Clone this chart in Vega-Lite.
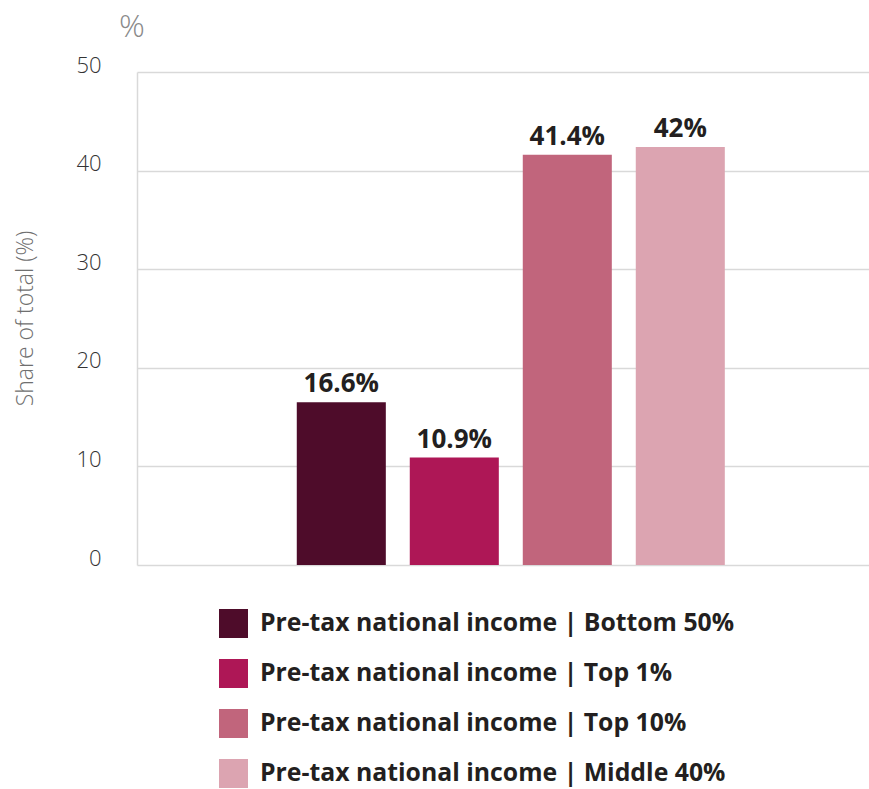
{
  "$schema": "https://vega.github.io/schema/vega-lite/v6.json",
  "width": 732,
  "height": 493,
  "autosize": {"type": "none"},
  "padding": {"left": 137, "top": 72, "right": 0, "bottom": 224},
  "background": "white",
  "config": {"font": "Open Sans", "view": {"stroke": null}},
  "title": {"text": "%", "anchor": "start", "frame": "group", "dx": -18, "offset": -22, "fontSize": 32, "fontWeight": 300, "color": "#8a8a8a", "baseline": "bottom"},
  "data": {"values": [
    {"series": "Pre-tax national income | Bottom 50%", "value": 16.5, "label": "16.6%"},
    {"series": "Pre-tax national income | Top 1%", "value": 10.9, "label": "10.9%"},
    {"series": "Pre-tax national income | Top 10%", "value": 41.6, "label": "41.4%"},
    {"series": "Pre-tax national income | Middle 40%", "value": 42.4, "label": "42%"}
  ]},
  "encoding": {
    "x": {"field": "series", "type": "nominal", "sort": null,
      "scale": {"domain": ["_left", "Pre-tax national income | Bottom 50%", "Pre-tax national income | Top 1%", "Pre-tax national income | Top 10%", "Pre-tax national income | Middle 40%", "_right"],
        "paddingInner": 0.212, "paddingOuter": 0.345, "align": 0.6},
      "axis": null},
    "y": {"field": "value", "type": "quantitative",
      "scale": {"domain": [0, 50], "nice": false},
      "axis": {"values": [0, 10, 20, 30, 40, 50], "title": "Share of total (%)", "titleFontSize": 23, "titleFontWeight": 300, "titleColor": "#6f6f6f",
        "titleX": -112, "titleY": 246, "titleAngle": -90, "titleBaseline": "middle", "titleAlign": "center",
        "labelFontSize": 22, "labelFontWeight": 300, "labelColor": "#333333", "labelPadding": 36, "labelBaseline": "alphabetic", "labelOffset": 0,
        "ticks": false, "domain": true, "domainColor": "#d9d9d9", "domainWidth": 1.5, "gridColor": "#d9d9d9", "gridWidth": 1.5}}
  },
  "layer": [
    {"mark": {"type": "bar"},
     "encoding": {
       "color": {"field": "series", "type": "nominal", "sort": null,
         "scale": {"range": ["#4e0c2a", "#ae1756", "#c1657c", "#dca4b1"]},
         "legend": {"title": null, "orient": "none", "legendX": 82, "legendY": 537, "symbolType": "square", "symbolSize": 841,
           "symbolStrokeWidth": 0, "symbolOpacity": 1, "labelFontSize": 24.8, "labelFontWeight": "bold", "labelColor": "#231f20",
           "labelOffset": 12, "rowPadding": 21, "labelLimit": 700, "labelBaseline": "middle"}}
     }},
    {"mark": {"type": "text", "dy": -10, "baseline": "alphabetic", "fontSize": 26, "fontWeight": "bold", "color": "#231f20"},
     "encoding": {"text": {"field": "label"}}}
  ]
}
